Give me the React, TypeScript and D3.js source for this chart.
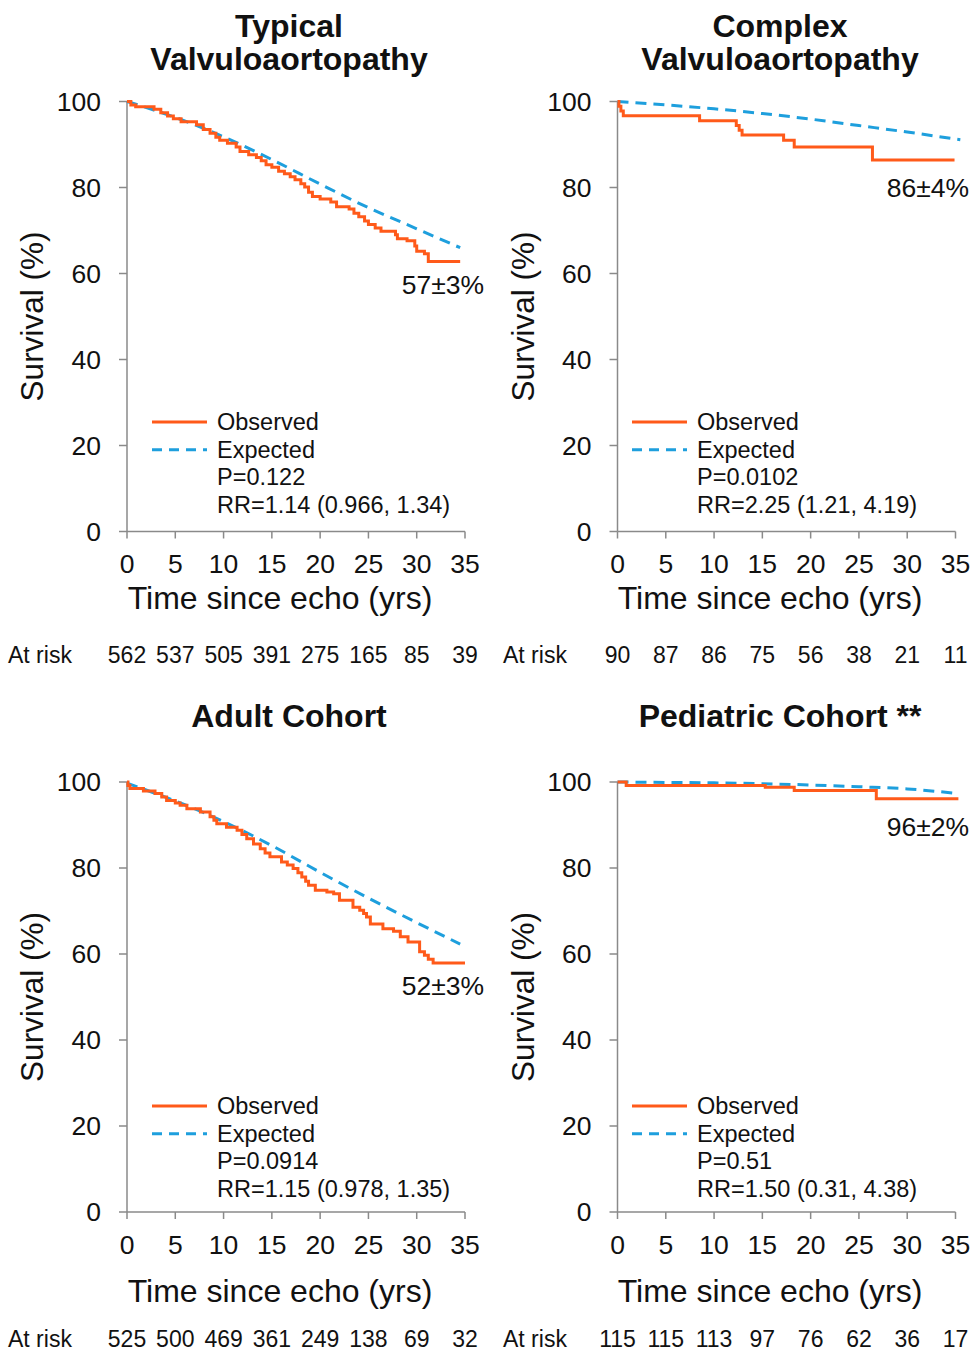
import * as d3 from 'd3'

// Kaplan-Meier survival, observed vs expected, four cohorts
const ORANGE = '#FF5A1A'
const BLUE = '#1E9FDD'
const AXIS = '#8A8A8A'
const FONT = '"Liberation Sans", Arial, sans-serif'

const xTicks = [0, 5, 10, 15, 20, 25, 30, 35]
const yTicks = [0, 20, 40, 60, 80, 100]

// Typical valvuloaortopathy
const typicalObsT = [0, 0.4, 0.9, 2.8, 3.5, 4.2, 4.8, 5.6, 7.2, 7.9, 8.6, 9.2, 9.6, 10.4, 11.3, 11.7, 12.6, 13.4, 13.9, 14.4, 15.0, 15.7, 16.3, 16.9, 17.4, 18.0, 18.4, 18.8, 19.2, 20.0, 21.1, 21.7, 23.0, 23.5, 24.0, 24.6, 25.0, 25.7, 26.3, 27.8, 28.0, 29.0, 29.8, 30.0, 30.8, 31.2, 34.5]
const typicalObsS = [100, 99.2, 98.8, 98.2, 97.4, 96.6, 96.0, 95.3, 94.6, 93.5, 92.6, 91.7, 91.0, 90.3, 89.4, 88.4, 87.6, 87.0, 86.2, 85.3, 84.7, 83.8, 83.2, 82.5, 81.8, 80.9, 80.1, 78.9, 77.9, 77.3, 76.6, 75.5, 75.0, 74.0, 73.2, 72.2, 71.4, 70.6, 69.8, 69.0, 68.1, 67.6, 66.4, 65.2, 64.6, 62.8, 62.8]
const typicalExpT = [0, 5, 10, 15, 20, 25, 30, 34.5]
const typicalExpS = [100, 96.3, 91.8, 86.5, 80.8, 75.3, 70.4, 66.0]
const typicalRisk = ['562', '537', '505', '391', '275', '165', '85', '39']

// Complex valvuloaortopathy
const complexObsT = [0, 0.15, 0.35, 0.6, 8.5, 12.3, 12.6, 12.9, 17.2, 18.3, 26.4, 34.9]
const complexObsS = [100, 98.9, 97.8, 96.7, 95.5, 94.4, 93.3, 92.2, 91.0, 89.4, 86.4, 86.4]
const complexExpT = [0, 5, 10, 15, 20, 25, 30, 35.5]
const complexExpS = [100, 99.2, 98.3, 97.2, 95.9, 94.4, 92.9, 91.1]
const complexRisk = ['90', '87', '86', '75', '56', '38', '21', '11']

// Adult cohort
const adultObsT = [0, 0.1, 0.3, 1.7, 2.9, 3.6, 4.1, 5.0, 5.5, 6.2, 7.6, 8.6, 9.0, 9.3, 10.3, 11.4, 11.9, 12.4, 13.1, 13.8, 14.3, 14.8, 16.0, 16.6, 17.2, 17.7, 18.1, 18.5, 18.8, 19.5, 20.7, 21.4, 22.0, 23.4, 24.1, 24.5, 24.8, 25.2, 26.5, 27.6, 28.3, 29.1, 30.3, 30.8, 31.2, 31.7, 35.0]
const adultObsS = [100, 99.2, 98.5, 97.9, 97.3, 96.5, 95.7, 95.1, 94.6, 93.8, 93.0, 91.9, 91.1, 90.3, 89.5, 88.8, 87.8, 86.8, 85.6, 84.5, 83.5, 82.6, 81.4, 80.7, 79.9, 78.9, 77.9, 76.9, 76.0, 74.8, 74.4, 74.0, 72.5, 70.9, 70.2, 69.4, 68.6, 67.0, 65.9, 65.3, 64.0, 62.8, 60.5, 59.7, 58.8, 57.9, 57.9]
const adultExpT = [0, 5, 10, 15, 20, 25, 30, 34.5]
const adultExpS = [99.7, 95.6, 90.8, 85.2, 79.0, 73.0, 67.3, 62.3]
const adultRisk = ['525', '500', '469', '361', '249', '138', '69', '32']

// Pediatric cohort
const pedObsT = [0, 0.9, 15.3, 18.3, 26.8, 35.3]
const pedObsS = [100, 99.2, 98.8, 98.0, 96.1, 96.1]
const pedExpT = [0, 5, 10, 15, 20, 25, 30, 35.3]
const pedExpS = [100, 99.9, 99.8, 99.6, 99.3, 98.9, 98.4, 97.3]
const pedRisk = ['115', '115', '113', '97', '76', '62', '36', '17']

interface PanelCfg {
  title: string[]
  titleX: number
  titleY: number[]
  xr: [number, number]
  yr: [number, number]
  obsT: number[]
  obsS: number[]
  expT: number[]
  expS: number[]
  risk: string[]
  riskLabelX: number
  tickBase: number
  xTitleX: number
  xTitleBase: number
  riskBase: number
  yTitleX: number
  legLineX: number
  legTextX: number
  legBase: number
  stats: string[]
  note: string
  noteX: number
  noteY: number
}

const panels: PanelCfg[] = [
  {
    title: ['Typical', 'Valvuloaortopathy'], titleX: 289, titleY: [37, 70],
    xr: [127, 465], yr: [531.5, 101.5],
    obsT: typicalObsT, obsS: typicalObsS, expT: typicalExpT, expS: typicalExpS,
    risk: typicalRisk, riskLabelX: 8, tickBase: 573, xTitleX: 280, xTitleBase: 609, riskBase: 663,
    yTitleX: 43, legLineX: 152, legTextX: 217, legBase: 430,
    stats: ['P=0.122', 'RR=1.14 (0.966, 1.34)'],
    note: '57±3%', noteX: 484, noteY: 294,
  },
  {
    title: ['Complex', 'Valvuloaortopathy'], titleX: 780, titleY: [37, 70],
    xr: [617.5, 955.5], yr: [531.5, 101.5],
    obsT: complexObsT, obsS: complexObsS, expT: complexExpT, expS: complexExpS,
    risk: complexRisk, riskLabelX: 503, tickBase: 573, xTitleX: 770, xTitleBase: 609, riskBase: 663,
    yTitleX: 534, legLineX: 632, legTextX: 697, legBase: 430,
    stats: ['P=0.0102', 'RR=2.25 (1.21, 4.19)'],
    note: '86±4%', noteX: 969, noteY: 197,
  },
  {
    title: ['Adult Cohort'], titleX: 289, titleY: [727],
    xr: [127, 465], yr: [1212, 782],
    obsT: adultObsT, obsS: adultObsS, expT: adultExpT, expS: adultExpS,
    risk: adultRisk, riskLabelX: 8, tickBase: 1254, xTitleX: 280, xTitleBase: 1302, riskBase: 1347,
    yTitleX: 43, legLineX: 152, legTextX: 217, legBase: 1114,
    stats: ['P=0.0914', 'RR=1.15 (0.978, 1.35)'],
    note: '52±3%', noteX: 484, noteY: 995,
  },
  {
    title: ['Pediatric Cohort **'], titleX: 780, titleY: [727],
    xr: [617.5, 955.5], yr: [1212, 782],
    obsT: pedObsT, obsS: pedObsS, expT: pedExpT, expS: pedExpS,
    risk: pedRisk, riskLabelX: 503, tickBase: 1254, xTitleX: 770, xTitleBase: 1302, riskBase: 1347,
    yTitleX: 534, legLineX: 632, legTextX: 697, legBase: 1114,
    stats: ['P=0.51', 'RR=1.50 (0.31, 4.38)'],
    note: '96±2%', noteX: 969, noteY: 836,
  },
]

function Panel({ p }: { p: PanelCfg }) {
  const x = d3.scaleLinear().domain([0, 35]).range(p.xr)
  const y = d3.scaleLinear().domain([0, 100]).range(p.yr)
  const obsLine = d3.line<number>()
    .x((_, i) => x(p.obsT[i]))
    .y(d => y(d))
    .curve(d3.curveStepAfter)
  const expLine = d3.line<number>()
    .x((_, i) => x(p.expT[i]))
    .y(d => y(d))
    .curve(d3.curveMonotoneX)
  const x0 = p.xr[0]
  const y0 = p.yr[0]
  const yMid = (p.yr[0] + p.yr[1]) / 2
  const LH = 27.7

  return (
    <g fontFamily={FONT} fill="#111">
      {p.title.map((t, i) => (
        <text key={t} x={p.titleX} y={p.titleY[i]} textAnchor="middle" fontWeight="bold" fontSize={32}>{t}</text>
      ))}

      {/* axes */}
      <line x1={x0} x2={x0} y1={y0} y2={p.yr[1]} stroke={AXIS} strokeWidth={1.5} />
      <line x1={x0} x2={p.xr[1]} y1={y0} y2={y0} stroke={AXIS} strokeWidth={1.5} />
      {yTicks.map(t => (
        <g key={'y' + t}>
          <line x1={x0 - 8} x2={x0} y1={y(t)} y2={y(t)} stroke={AXIS} strokeWidth={1.5} />
          <text x={x0 - 26} y={y(t) + 9} textAnchor="end" fontSize={26.5}>{t}</text>
        </g>
      ))}
      {xTicks.map(t => (
        <g key={'x' + t}>
          <line x1={x(t)} x2={x(t)} y1={y0} y2={y0 + 7} stroke={AXIS} strokeWidth={1.5} />
          <text x={x(t)} y={p.tickBase} textAnchor="middle" fontSize={26.5}>{t}</text>
        </g>
      ))}
      <text x={p.xTitleX} y={p.xTitleBase} textAnchor="middle" fontSize={32}>Time since echo (yrs)</text>
      <text transform={`translate(${p.yTitleX},${yMid}) rotate(-90)`} textAnchor="middle" fontSize={31.5}>Survival (%)</text>

      {/* curves */}
      <path d={expLine(p.expS) ?? ''} fill="none" stroke={BLUE} strokeWidth={3} strokeDasharray="11,7" />
      <path d={obsLine(p.obsS) ?? ''} fill="none" stroke={ORANGE} strokeWidth={3} strokeLinejoin="miter" />

      <text x={p.noteX} y={p.noteY} textAnchor="end" fontSize={26.5}>{p.note}</text>

      {/* legend */}
      <line x1={p.legLineX} x2={p.legLineX + 55} y1={p.legBase - 8} y2={p.legBase - 8} stroke={ORANGE} strokeWidth={3} />
      <line x1={p.legLineX} x2={p.legLineX + 55} y1={p.legBase + LH - 8} y2={p.legBase + LH - 8} stroke={BLUE} strokeWidth={3} strokeDasharray="10,7" />
      {['Observed', 'Expected', ...p.stats].map((t, i) => (
        <text key={t} x={p.legTextX} y={p.legBase + i * LH} fontSize={23.5}>{t}</text>
      ))}

      {/* at risk */}
      <text x={p.riskLabelX} y={p.riskBase} fontSize={23}>At risk</text>
      {p.risk.map((r, i) => (
        <text key={'r' + i} x={x(xTicks[i])} y={p.riskBase} textAnchor="middle" fontSize={23}>{r}</text>
      ))}
    </g>
  )
}

export default function App() {
  return (
    <svg width={971} height={1353} style={{ position: 'absolute', left: 0, top: 0, background: '#fff' }}>
      <rect width={971} height={1353} fill="#fff" />
      {panels.map((p, i) => <Panel key={i} p={p} />)}
    </svg>
  )
}
